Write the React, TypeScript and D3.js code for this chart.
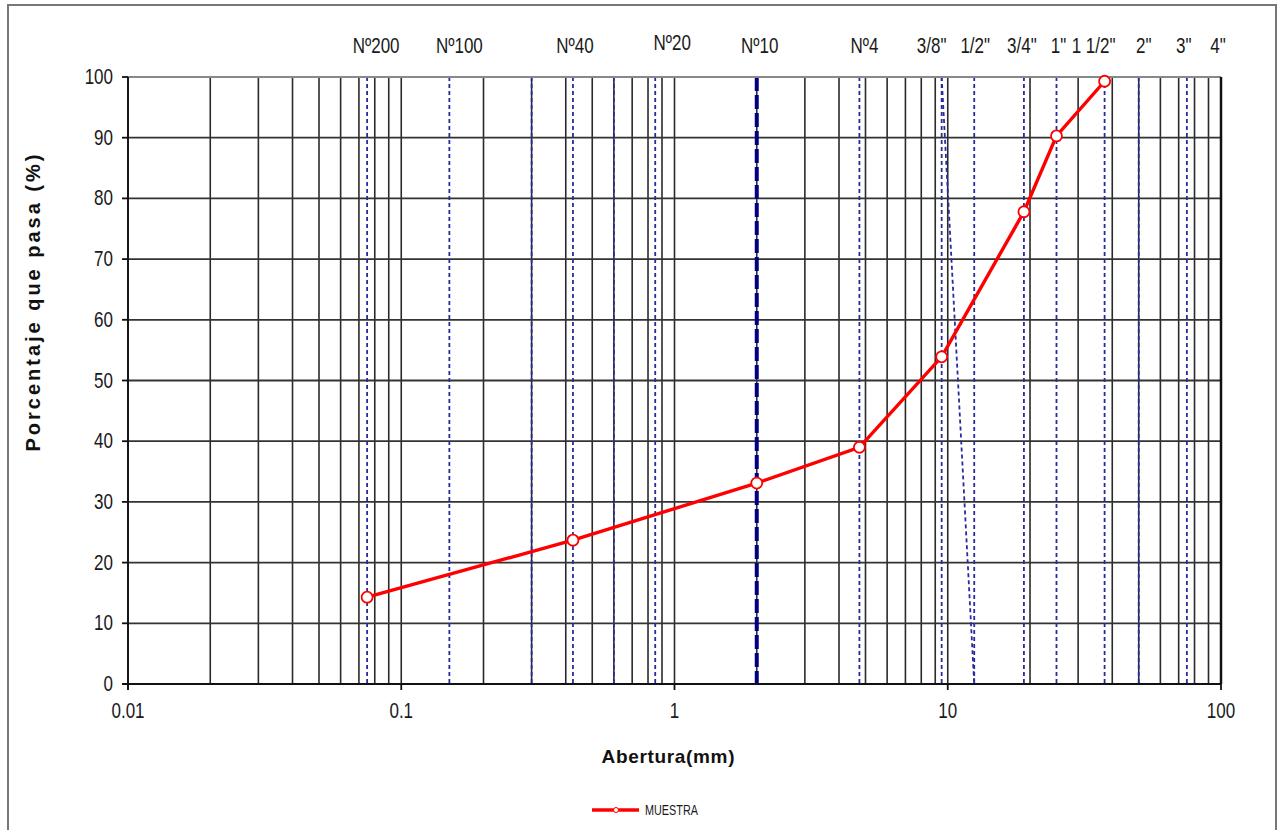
import React from "react";
import * as d3 from "d3";

// Sample gradation (sieve opening in mm, percent passing)
const sampleOpenings = [0.075, 0.425, 2, 4.75, 9.5, 19, 25, 37.5];
const samplePassing = [14.3, 23.7, 33.1, 39.0, 53.9, 77.8, 90.3, 99.3];

// Reference sieve lines drawn across the plot
const sieveLines = [0.075, 0.15, 0.3, 0.425, 0.6, 0.85, 4.75, 9.5, 12.5, 19, 25, 37.5, 50, 75];
const highlightSieve = 2;

// Sieve names shown above the plot, with their openings
const sieveNames = ["Nº200", "Nº100", "Nº40", "Nº20", "Nº10", "Nº4", '3/8"', '1/2"', '3/4"', '1"', '1 1/2"', '2"', '3"', '4"'];
const sieveNameOpenings = [0.075, 0.15, 0.425, 0.85, 2, 4.75, 9.5, 12.5, 19, 25, 37.5, 50, 75, 100];
const sieveNameShift = [9, 10, 2, 17, 3, 5, -10, 1, -2, 2, -11, 5, -3, -3];

const xDecades = [0.01, 0.1, 1, 10, 100];
const xTickLabels = ["0.01", "0.1", "1", "10", "100"];
const yTicks = [0, 10, 20, 30, 40, 50, 60, 70, 80, 90, 100];

const W = 1285;
const H = 830;
const L = 128, R = 1221, T = 77, B = 684;

const FONT = "'Liberation Sans', Arial, sans-serif";

export default function App() {
  const x = d3.scaleLog().domain([0.01, 100]).range([L, R]);
  const y = d3.scaleLinear().domain([0, 100]).range([B, T]);

  const minor: number[] = [];
  for (let d = 0; d < 4; d++) {
    const base = xDecades[d];
    for (let m = 1; m <= 9; m++) minor.push(base * m);
  }

  const pts = sampleOpenings.map((o, i) => [o, samplePassing[i]] as [number, number]);
  const line = d3.line<[number, number]>().x((d) => x(d[0])).y((d) => y(d[1]));

  const stretched = (tx: number, ty: number) => `translate(${tx},${ty}) scale(1,1.25)`;

  return (
    <svg width={W} height={H} style={{ position: "absolute", left: 0, top: 0, background: "#fff" }}>
      {/* chart frame */}
      <rect x={8} y={5} width={1268} height={840} fill="#fff" stroke="#777" strokeWidth={2} />

      {/* vertical log grid */}
      {minor.map((v, i) => (
        <line key={"vg" + i} x1={x(v)} x2={x(v)} y1={T} y2={B} stroke="#2a2a2a" strokeWidth={1.6} />
      ))}
      {/* horizontal grid */}
      {yTicks.map((t) => (
        <line key={"hg" + t} x1={L} x2={R} y1={y(t)} y2={y(t)} stroke="#333" strokeWidth={1.8} />
      ))}

      {/* sieve reference lines */}
      {sieveLines.map((s, i) => (
        <line key={"sv" + i} x1={x(s)} x2={x(s)} y1={T} y2={B} stroke="#2a2aa0" strokeWidth={1.8}
          strokeDasharray="4,3" />
      ))}
      <line x1={x(9.5)} x2={x(12.5)} y1={y(100)} y2={y(0)} stroke="#2a2aa0" strokeWidth={1.8} strokeDasharray="4,3" />
      <line x1={x(highlightSieve)} x2={x(highlightSieve)} y1={T} y2={B} stroke="#000080" strokeWidth={4}
        strokeDasharray="14,4" />

      {/* plot border and axes */}
      <line x1={L} x2={R} y1={T} y2={T} stroke="#888" strokeWidth={2} />
      <line x1={R} x2={R} y1={T} y2={B} stroke="#111" strokeWidth={2.5} />
      <line x1={L} x2={L} y1={T} y2={B + 6} stroke="#111" strokeWidth={1.8} />
      <line x1={L - 6} x2={R} y1={B} y2={B} stroke="#111" strokeWidth={2} />
      {yTicks.map((t) => (
        <line key={"yt" + t} x1={L - 6} x2={L} y1={y(t)} y2={y(t)} stroke="#111" strokeWidth={1.8} />
      ))}
      {xDecades.map((v, i) => (
        <line key={"xt" + i} x1={x(v)} x2={x(v)} y1={B} y2={B + 6} stroke="#111" strokeWidth={1.8} />
      ))}

      {/* tick labels */}
      {yTicks.map((t) => (
        <text key={"yl" + t} transform={stretched(L - 15, y(t) + 7)} textAnchor="end" fontFamily={FONT}
          fontSize={17} fill="#1a1a1a">{t}</text>
      ))}
      {xDecades.map((v, i) => (
        <text key={"xl" + i} transform={stretched(x(v), B + 34)} textAnchor="middle" fontFamily={FONT}
          fontSize={17} fill="#1a1a1a">{xTickLabels[i]}</text>
      ))}

      {/* sieve names */}
      {sieveNames.map((n, i) => (
        <text key={"sn" + i} transform={stretched(x(sieveNameOpenings[i]) + sieveNameShift[i], i === 3 ? 50 : 52.5)}
          textAnchor="middle" fontFamily={FONT} fontSize={17} fill="#1a1a1a">{n}</text>
      ))}

      {/* sample curve */}
      <path d={line(pts) || ""} fill="none" stroke="#ff0000" strokeWidth={3.4} />
      {pts.map((p, i) => (
        <circle key={"pt" + i} cx={x(p[0])} cy={y(p[1])} r={5.5} fill="#fff" stroke="#ff0000" strokeWidth={1.8} />
      ))}

      {/* axis titles */}
      <text transform={`translate(40,${303}) rotate(-90)`} textAnchor="middle" fontFamily={FONT} fontSize={20}
        fontWeight="bold" fill="#111" textLength={297} lengthAdjust="spacing">Porcentaje que pasa (%)</text>
      <text x={668} y={763} textAnchor="middle" fontFamily={FONT} fontSize={19} fontWeight="bold" fill="#111"
        textLength={133} lengthAdjust="spacing">Abertura(mm)</text>

      {/* legend */}
      <line x1={592} x2={639} y1={810} y2={810} stroke="#ff0000" strokeWidth={3.5} />
      <circle cx={616} cy={810} r={2.5} fill="#fff" stroke="#ff0000" strokeWidth={1} />
      <text transform={`translate(645,815) scale(1,1.3)`} fontFamily={FONT} fontSize={11.5} fill="#1a1a1a"
        textLength={53} lengthAdjust="spacingAndGlyphs">MUESTRA</text>
    </svg>
  );
}
